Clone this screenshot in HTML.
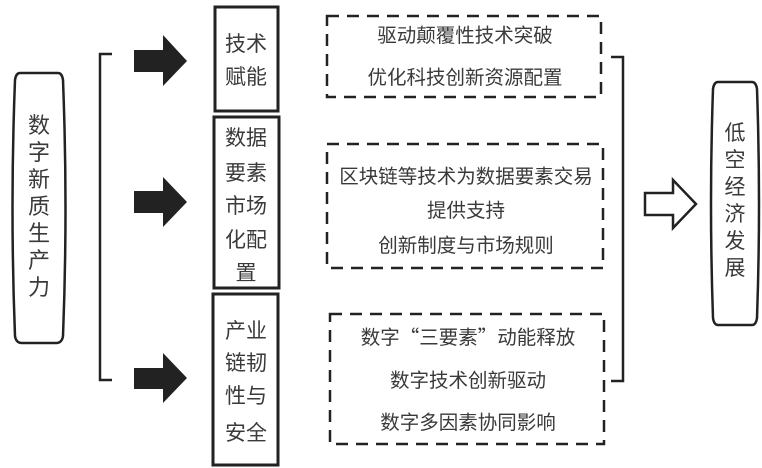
<!DOCTYPE html>
<html><head><meta charset="utf-8"><style>
html,body{margin:0;padding:0;background:#fff;}
svg{display:block;}
text{font-family:"Liberation Sans","Noto Sans CJK SC",sans-serif;fill:#3a3a3a;}
.cjk{font-family:"Noto Sans CJK SC",sans-serif;}
</style></head><body>
<svg width="762" height="468" viewBox="0 0 762 468" xmlns="http://www.w3.org/2000/svg">
<path d="M20 73 L58 73 Q62 73 63 80 Q68 208 63 336 Q62 343 56 343 L22 343 Q16 343 15 336 Q10 208 15 80 Q16 73 20 73 Z" fill="none" stroke="#222" stroke-width="2.5"/>
<g font-size="22" text-anchor="middle">
<text x="39" y="133">数</text><text x="39" y="160">字</text><text x="39" y="187">新</text><text x="39" y="214">质</text><text x="39" y="241">生</text><text x="39" y="268">产</text><text x="39" y="295">力</text>
</g>
<path d="M112 54 L100 54 L100 380 L112 380" fill="none" stroke="#222" stroke-width="2.5"/>
<g fill="#222">
<path d="M134 50 L163 50 L163 35 L187 61 L163 86 L163 72 L134 72 Z"/>
<path d="M134 191 L163 191 L163 177 L187 202 L163 227 L163 213 L134 213 Z"/>
<path d="M134 368 L163 368 L163 353 L187 378 L163 403 L163 389 L134 389 Z"/>
</g>
<g fill="none" stroke="#222" stroke-width="3">
<rect x="215" y="7" width="63" height="104"/>
<rect x="214" y="117" width="65" height="171"/>
<rect x="213" y="294" width="65" height="171"/>
</g>
<g font-size="21" text-anchor="middle">
<text x="246" y="51">技术</text><text x="246" y="84">赋能</text>
<text x="246" y="145">数据</text><text x="246" y="180">要素</text><text x="246" y="213">市场</text><text x="246" y="247">化配</text><text x="246" y="280">置</text>
<text x="246" y="338">产业</text><text x="246" y="370">链韧</text><text x="246" y="403">性与</text><text x="246" y="440">安全</text>
</g>
<g fill="none" stroke="#222" stroke-width="2.5" stroke-dasharray="12,8">
<rect x="327" y="16" width="274" height="81"/>
<rect x="327" y="144" width="276" height="124"/>
<rect x="330" y="314" width="274" height="130"/>
</g>
<g font-size="19.5" text-anchor="middle">
<text x="465" y="42">驱动颠覆性技术突破</text>
<text x="465" y="84">优化科技创新资源配置</text>
<text x="466" y="183">区块链等技术为数据要素交易</text>
<text x="466" y="217">提供支持</text>
<text x="466" y="252">创新制度与市场规则</text>
<text x="468" y="344" class="cjk">数字“三要素”动能释放</text>
<text x="468" y="387">数字技术创新驱动</text>
<text x="468" y="429">数字多因素协同影响</text>
</g>
<path d="M611 57 L623 57 L623 381 L611 381" fill="none" stroke="#222" stroke-width="2.5"/>
<path d="M645 193 L673 193 L673 180 L696 204 L673 228 L673 215 L645 215 Z" fill="#fff" stroke="#222" stroke-width="2.5"/>
<path d="M718 82 L752 82 Q756 82 757 89 Q761 204 757 318 Q756 325 752 325 L718 325 Q714 325 713 318 Q709 204 713 89 Q714 82 718 82 Z" fill="none" stroke="#222" stroke-width="2.5"/>
<g font-size="21" text-anchor="middle">
<text x="735" y="140">低</text><text x="735" y="167">空</text><text x="735" y="194">经</text><text x="735" y="221">济</text><text x="735" y="248">发</text><text x="735" y="275">展</text>
</g>
</svg>
</body></html>
